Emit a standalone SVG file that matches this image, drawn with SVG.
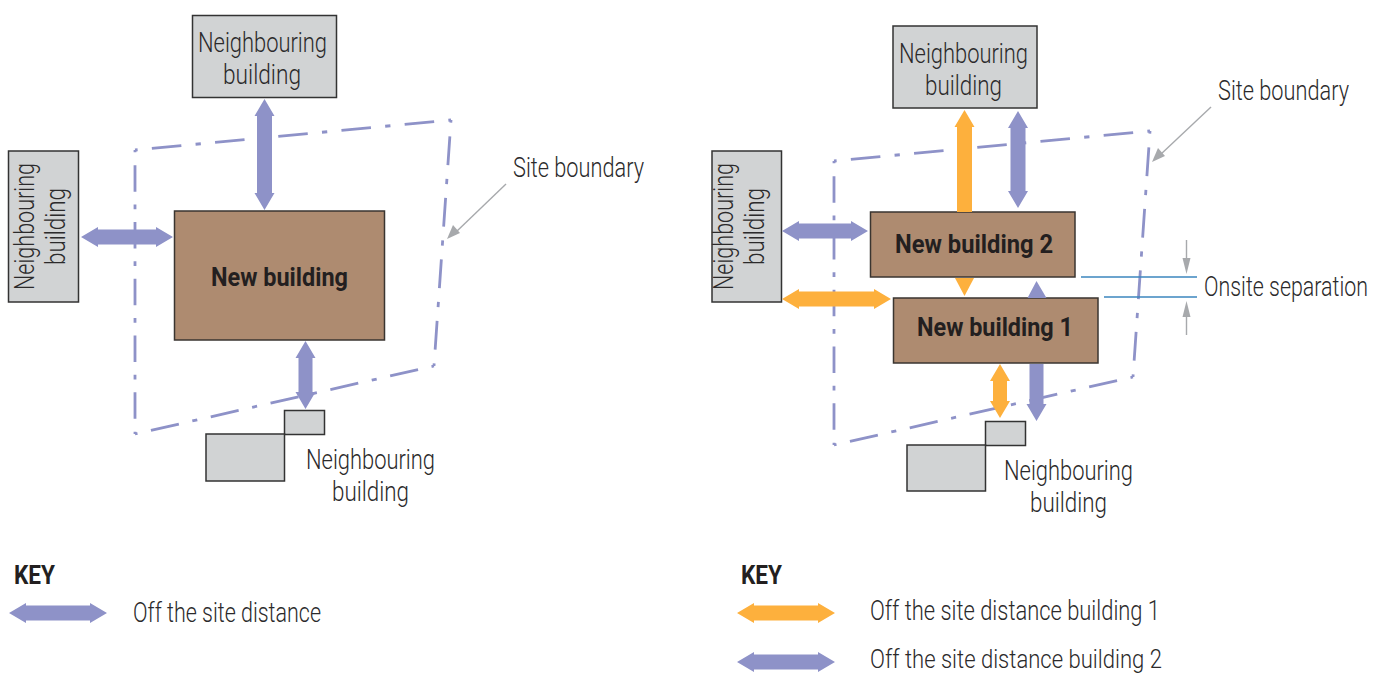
<svg xmlns="http://www.w3.org/2000/svg" width="1386" height="673" viewBox="0 0 1386 673">
<style>
text{font-family:"Roboto","Liberation Sans",sans-serif;fill:#2b2a2b;font-size:27px;font-weight:300}
.b{font-weight:700;font-size:26px;fill:#231f20}
.k{font-weight:700;font-size:25px;fill:#231f20}
.n{fill:#d1d3d4;stroke:#333;stroke-width:1.5}
.m{fill:#ae8b70;stroke:#3a3530;stroke-width:1.5}
.s{fill:none;stroke:#8e92c8;stroke-width:2.8;stroke-dasharray:28 13.5 5 13.5;stroke-dashoffset:44}
.p{fill:#8e92c8}
.o{fill:#fdb03d}
.g{stroke:#a7a9ac;stroke-width:1.4;fill:none}
.gh{fill:#a7a9ac}
.l{stroke:#3d86bf;stroke-width:1.5}
</style>
<g id="left-diagram-boundary"><path class="s" pathLength="300" d="M135 150L451 120"/><path class="s" pathLength="240" d="M451 120L434 366"/><path class="s" pathLength="300" d="M135 434L434 366"/><path class="s" pathLength="300" d="M135 150V434"/></g>
<g id="right-diagram-boundary"><path class="s" pathLength="300" d="M834 161L1150 131"/><path class="s" pathLength="240" d="M1150 131L1133 377"/><path class="s" pathLength="300" d="M834 445L1133 377"/><path class="s" pathLength="300" d="M834 161V445"/></g>
<g id="n-top-left"><rect class="n" x="192.500" y="15.500" width="144" height="82"/><text x="198" y="52" textLength="129" lengthAdjust="spacingAndGlyphs">Neighbouring</text><text x="223" y="84" textLength="78" lengthAdjust="spacingAndGlyphs">building</text></g>
<g id="n-side-left"><rect class="n" x="8.500" y="151" width="70" height="151"/><text transform="translate(34 290) rotate(-90)" textLength="127" lengthAdjust="spacingAndGlyphs">Neighbouring</text><text transform="translate(65 265) rotate(-90)" textLength="77" lengthAdjust="spacingAndGlyphs">building</text></g>
<g id="new-building"><rect class="m" x="174.500" y="211" width="210" height="129"/><text class="b" x="211" y="286" textLength="137" lengthAdjust="spacingAndGlyphs">New building</text></g>
<g id="n-bottom-left"><rect class="n" x="284.500" y="410.500" width="40" height="24"/><rect class="n" x="206" y="434" width="78.500" height="47"/><text x="306" y="469" textLength="129" lengthAdjust="spacingAndGlyphs">Neighbouring</text><text x="332" y="501" textLength="77" lengthAdjust="spacingAndGlyphs">building</text></g>
<g id="n-top-right"><rect class="n" x="893" y="26" width="144" height="82"/><text x="899" y="63" textLength="129" lengthAdjust="spacingAndGlyphs">Neighbouring</text><text x="925" y="95" textLength="77" lengthAdjust="spacingAndGlyphs">building</text></g>
<g id="n-side-right"><rect class="n" x="712" y="151" width="69.500" height="151"/><text transform="translate(733 290) rotate(-90)" textLength="127" lengthAdjust="spacingAndGlyphs">Neighbouring</text><text transform="translate(764 265) rotate(-90)" textLength="77" lengthAdjust="spacingAndGlyphs">building</text></g>
<g id="new-building-2"><rect class="m" x="870.500" y="212" width="204.500" height="65"/><text class="b" x="895" y="253" textLength="158" lengthAdjust="spacingAndGlyphs">New building 2</text></g>
<g id="new-building-1"><rect class="m" x="893.500" y="298" width="204.500" height="65"/><text class="b" x="917" y="336" textLength="156" lengthAdjust="spacingAndGlyphs">New building 1</text></g>
<g id="n-bottom-right"><rect class="n" x="985.500" y="421.500" width="40" height="24"/><rect class="n" x="907" y="445" width="78.500" height="46"/><text x="1004" y="480" textLength="129" lengthAdjust="spacingAndGlyphs">Neighbouring</text><text x="1030" y="512" textLength="77" lengthAdjust="spacingAndGlyphs">building</text></g>
<g id="connectors">
<path class="p" d="M264.500 99l10 17h-2.500v77h2.500l-10 17l-10-17h2.500v-77h-2.500z"/>
<path class="p" d="M81 237l17-10v2.500h58v-2.500l17 10l-17 10v-2.500h-58v2.500z"/>
<path class="p" d="M305.500 341l10 17h-3v34h3l-10 17l-10-17h3v-34h-3z"/>
<path class="o" d="M964.500 110l10 17h-2.500v85h-15v-85h-2.500z"/>
<path class="p" d="M1018 111l10 17h-2.500v63h2.500l-10 17l-10-17h2.500v-63h-2.500z"/>
<path class="p" d="M782 231l17-10v2.500h52v-2.500l17 10l-17 10v-2.500h-52v2.500z"/>
<path class="o" d="M782 299l17-10v2.500h75v-2.500l17 10l-17 10v-2.500h-75v2.500z"/>
<path class="o" d="M955 278h19l-9.500 18z"/>
<path class="p" d="M1036.500 281l10 17h-19z"/>
<path class="p" d="M1029.500 364h14v40h3l-10 17l-10-17h3z"/>
<path class="o" d="M1000 364l10 17h-3v20h3l-10 17l-10-17h3v-20h-3z"/>
<path class="p" d="M9 613l17-10v2.500h64v-2.500l17 10l-17 10v-2.500h-64v2.500z"/>
<path class="o" d="M737 613l17-10v2.500h64v-2.500l17 10l-17 10v-2.500h-64v2.500z"/>
<path class="p" d="M737 662l17-10v2.500h64v-2.500l17 10l-17 10v-2.500h-64v2.500z"/>
<path class="g" d="M506 184L456 232"/><path class="gh" d="M447 239l6-14l7 8z"/>
<path class="g" d="M1211 107L1160 155"/><path class="gh" d="M1152 162l6-14l7 8z"/>
<path class="l" d="M1081 277H1197M1104 297H1197"/>
<path class="g" d="M1186.500 240V262M1186.500 335V312"/>
<path class="gh" d="M1186.500 274l-4-16h8zM1186.500 301l-4 16h8z"/>
</g>
<g id="labels">
<text x="513" y="177" textLength="131" lengthAdjust="spacingAndGlyphs">Site boundary</text>
<text x="1218" y="100" textLength="131" lengthAdjust="spacingAndGlyphs">Site boundary</text>
<text transform="translate(1204 296) scale(.8 1)" textLength="205" lengthAdjust="spacingAndGlyphs">Onsite separation</text>
<text class="k" x="14" y="584" textLength="41" lengthAdjust="spacingAndGlyphs">KEY</text>
<text x="133" y="622" textLength="188" lengthAdjust="spacingAndGlyphs">Off the site distance</text>
<text class="k" x="741" y="584" textLength="41" lengthAdjust="spacingAndGlyphs">KEY</text>
<text x="870" y="620" textLength="290" lengthAdjust="spacingAndGlyphs">Off the site distance building 1</text>
<text transform="translate(870 667.500) scale(.82 1)" style="font-size:26px" textLength="356" lengthAdjust="spacingAndGlyphs">Off the site distance building 2</text>
</g>
</svg>
